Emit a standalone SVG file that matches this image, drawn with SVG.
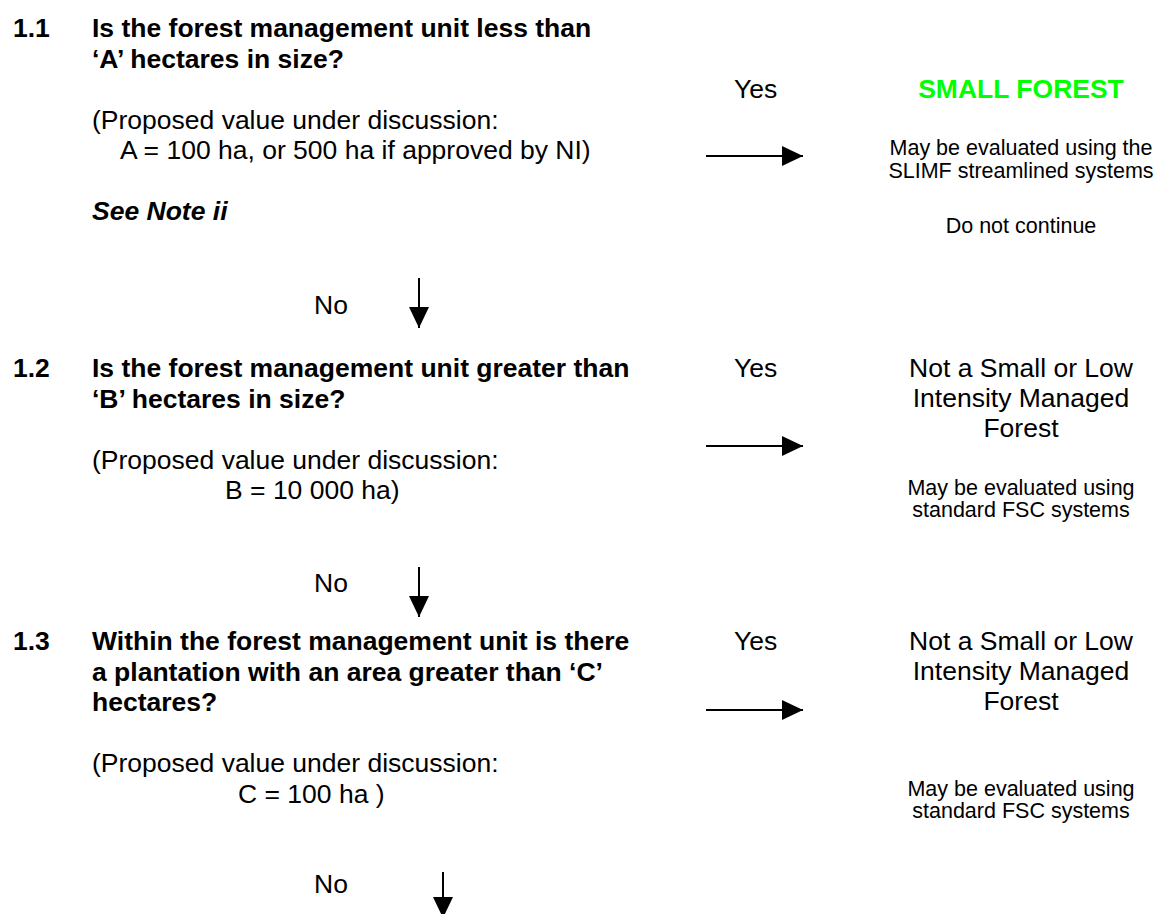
<svg xmlns="http://www.w3.org/2000/svg" width="1158" height="914" viewBox="0 0 1158 914">
  <style>
    text { font-family: "Liberation Sans", Arial, sans-serif; fill: #000; }
    .q { font-size: 26.5px; font-weight: bold; }
    .b { font-size: 26.5px; }
    .s { font-size: 21.5px; }
    .c { text-anchor: middle; }
    .note { font-size: 26.5px; font-weight: bold; font-style: italic; }
    .green { font-size: 26.5px; font-weight: bold; fill: #00ff00; }
    .arrow { stroke: #000; stroke-width: 2; fill: none; marker-end: url(#ah); }
  </style>
  <defs>
    <marker id="ah" markerUnits="userSpaceOnUse" markerWidth="22" markerHeight="20" refX="21" refY="10" orient="auto">
      <path d="M0,0 L21,10 L0,20 Z" fill="#000"/>
    </marker>
  </defs>
  <rect width="1158" height="914" fill="#fff"/>

  <!-- Question 1.1 -->
  <g id="q1">
    <text class="q" x="13" y="37">1.1</text>
    <text class="q" x="92" y="37">Is the forest management unit less than</text>
    <text class="q" x="92" y="67.5">&#8216;A&#8217; hectares in size?</text>
    <text class="b" x="92" y="128.5">(Proposed value under discussion:</text>
    <text class="b" x="120" y="159">A = 100 ha, or 500 ha if approved by NI)</text>
    <text class="note" x="92" y="220">See Note ii</text>
  </g>

  <!-- Outcome 1: small forest -->
  <g id="r1">
    <text class="green c" x="1021" y="98">SMALL FOREST</text>
    <text class="s c" x="1021" y="155">May be evaluated using the</text>
    <text class="s c" x="1021" y="178">SLIMF streamlined systems</text>
    <text class="s c" x="1021" y="233">Do not continue</text>
  </g>

  <!-- Question 1.2 -->
  <g id="q2">
    <text class="q" x="13" y="377">1.2</text>
    <text class="q" x="92" y="377">Is the forest management unit greater than</text>
    <text class="q" x="92" y="407.5">&#8216;B&#8217; hectares in size?</text>
    <text class="b" x="92" y="468.5">(Proposed value under discussion:</text>
    <text class="b" x="225" y="499">B = 10 000 ha)</text>
  </g>

  <!-- Outcome 2 -->
  <g id="r2">
    <text class="b c" x="1021" y="377">Not a Small or Low</text>
    <text class="b c" x="1021" y="407">Intensity Managed</text>
    <text class="b c" x="1021" y="437">Forest</text>
    <text class="s c" x="1021" y="495">May be evaluated using</text>
    <text class="s c" x="1021" y="517">standard FSC systems</text>
  </g>

  <!-- Question 1.3 -->
  <g id="q3">
    <text class="q" x="13" y="650">1.3</text>
    <text class="q" x="92" y="650">Within the forest management unit is there</text>
    <text class="q" x="92" y="680.5">a plantation with an area greater than &#8216;C&#8217;</text>
    <text class="q" x="92" y="711">hectares?</text>
    <text class="b" x="92" y="772">(Proposed value under discussion:</text>
    <text class="b" x="238" y="802.5">C = 100 ha )</text>
  </g>

  <!-- Outcome 3 -->
  <g id="r3">
    <text class="b c" x="1021" y="650">Not a Small or Low</text>
    <text class="b c" x="1021" y="680">Intensity Managed</text>
    <text class="b c" x="1021" y="710">Forest</text>
    <text class="s c" x="1021" y="796">May be evaluated using</text>
    <text class="s c" x="1021" y="818">standard FSC systems</text>
  </g>

  <!-- Yes / No branches -->
  <g id="connectors">
    <text class="b" x="734" y="98">Yes</text>
    <line class="arrow" x1="706" y1="156" x2="803" y2="156"/>
    <text class="b" x="314" y="314">No</text>
    <line class="arrow" x1="419" y1="278" x2="419" y2="328"/>

    <text class="b" x="734" y="377">Yes</text>
    <line class="arrow" x1="706" y1="446" x2="803" y2="446"/>
    <text class="b" x="314" y="592">No</text>
    <line class="arrow" x1="419" y1="567" x2="419" y2="617"/>

    <text class="b" x="734" y="650">Yes</text>
    <line class="arrow" x1="706" y1="710" x2="803" y2="710"/>
    <text class="b" x="314" y="893">No</text>
    <line class="arrow" x1="443" y1="872" x2="443" y2="918"/>
  </g>
</svg>
